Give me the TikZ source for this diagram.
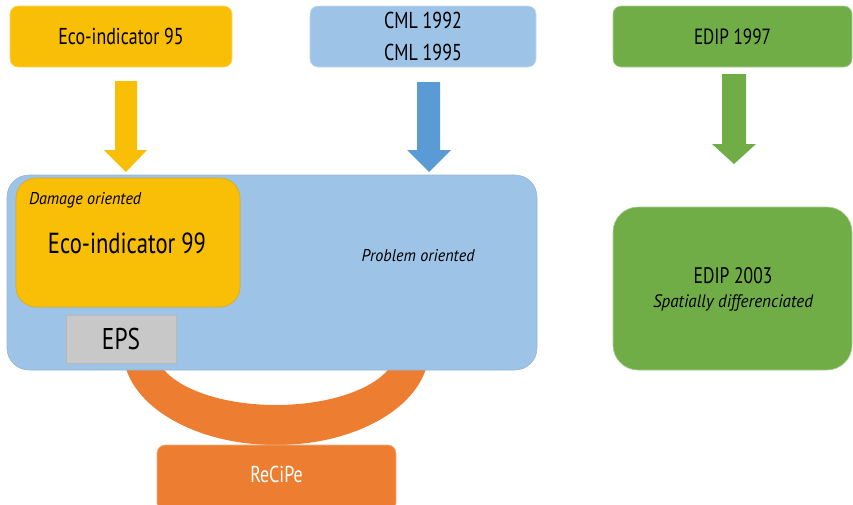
\documentclass[tikz,border=0pt]{standalone}
\usepackage{fontspec}
\setmainfont[FakeStretch=0.78]{PT Sans}
\newfontfamily\itfam[FakeStretch=0.95]{PT Sans}
\definecolor{cYel}{HTML}{F9BE06}
\definecolor{cBlueL}{HTML}{9DC3E6}
\definecolor{cBlueD}{HTML}{5B9BD5}
\definecolor{cGreen}{HTML}{70AD47}
\definecolor{cOrange}{HTML}{ED7D31}
\definecolor{cGray}{HTML}{C8C8C8}
\begin{document}
\begin{tikzpicture}[x=1pt,y=-1pt,
  box/.style={rounded corners=8pt, inner sep=0pt, outer sep=0pt, line width=0.6pt, align=center},
  lbl/.style={inner sep=0pt, outer sep=0pt, align=center},
  fs/.style={font=\fontsize{#1}{#1}\selectfont},
  fi/.style={font=\fontsize{#1}{#1}\selectfont\itfam\itshape}]
\useasboundingbox (0,0) rectangle (853,504);
% top boxes
\node[box, fill=cYel, draw=cYel!60!white, minimum width=222pt, minimum height=61pt, fs=23] (e95) at (121,36.5) {Eco-indicator 95};
\node[box, fill=cBlueL, draw=cBlueL!60!white, minimum width=226pt, minimum height=61pt, font=\fontsize{23}{32}\selectfont] (cml) at (423,36.5) {CML 1992\\CML 1995};
\node[box, fill=cGreen, draw=cGreen!60!white, minimum width=239pt, minimum height=61pt, fs=22] (edip97) at (732.5,36.5) {EDIP 1997};
% block arrows
\fill[cYel] (115,81) -- (137,81) -- (137,150) -- (147,150) -- (126,172) -- (104,150) -- (115,150) -- cycle;
\fill[cBlueD] (417,82) -- (440,82) -- (440,150) -- (451,150) -- (429,172) -- (407,150) -- (417,150) -- cycle;
\fill[cGreen] (722,74) -- (746,74) -- (746,144) -- (756,144) -- (734,164) -- (712,144) -- (722,144) -- cycle;
% orange ring
\fill[cOrange, even odd rule] (276,350) ellipse [x radius=153pt, y radius=95pt] (276,350) ellipse [x radius=120pt, y radius=55pt];
% big box
\node[box, rounded corners=22pt, fill=cBlueL, draw=cBlueL!80!gray, minimum width=530pt, minimum height=195pt] (big) at (272,272.5) {};
\node[box, rounded corners=20pt, fill=cYel, draw=cYel!70!gray, minimum width=224pt, minimum height=129pt] (e99) at (128,242.5) {};
\node[lbl, fi=17, anchor=west] (dmg) at (29,200) {Damage oriented};
\node[lbl, fs=29] (e99t) at (127,243) {Eco-indicator 99};
\node[box, rounded corners=0pt, fill=cGray, draw=cGray!80!gray, minimum width=110pt, minimum height=48pt, fs=30] (eps) at (121,339) {EPS};
\node[lbl, fi=17] (prob) at (418,256) {Problem oriented};
% EDIP 2003
\node[box, rounded corners=25pt, fill=cGreen, draw=cGreen!60!white, minimum width=239pt, minimum height=163pt] (edip03) at (732.5,288.5) {};
\node[lbl, fs=22.5] (edip03t) at (733,276) {EDIP 2003};
\node[lbl, fi=18] (spat) at (733,303) {Spatially differenciated};
% ReCiPe
\node[box, fill=cOrange, draw=cOrange!60!white, minimum width=239pt, minimum height=66pt] (recipe) at (276.5,478) {};
\node[lbl, fs=23, text=white] (recipet) at (276.5,474) {ReCiPe};
\end{tikzpicture}
\end{document}
